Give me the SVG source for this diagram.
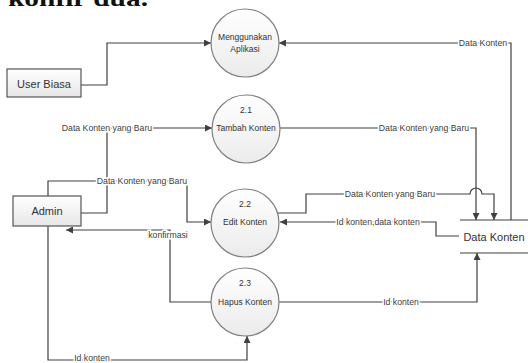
<svg xmlns="http://www.w3.org/2000/svg" width="528" height="363" viewBox="0 0 528 363">
<defs>
<linearGradient id="gc" x1="0" y1="0" x2="0" y2="1"><stop offset="0" stop-color="#ffffff"/><stop offset="1" stop-color="#ebebeb"/></linearGradient>
<linearGradient id="gb" x1="0" y1="0" x2="0" y2="1"><stop offset="0" stop-color="#ffffff"/><stop offset="1" stop-color="#e6e6e6"/></linearGradient>
<marker id="ar" viewBox="0 0 10 10" refX="10" refY="5" markerWidth="7" markerHeight="7" markerUnits="userSpaceOnUse" orient="auto"><path d="M0,0 L10,5 L0,10 z" fill="#404040"/></marker>
</defs>
<style>
.c{fill:url(#gc);stroke:#7f7f7f;stroke-width:1.2}
.b{fill:url(#gb);stroke:#555;stroke-width:1.2}
.l{fill:none;stroke:#404040;stroke-width:1.2}
.a{marker-end:url(#ar)}
.t{font-family:"Liberation Sans",Arial,sans-serif;fill:#333;text-anchor:middle}
.lb{font-family:"Liberation Sans",Arial,sans-serif;font-size:8.7px;fill:#404040;text-anchor:middle;stroke:#fff;stroke-width:3;paint-order:stroke}
</style>
<rect width="528" height="363" fill="#fff"/>
<text x="8" y="6" font-family="Liberation Serif,serif" font-weight="bold" font-size="24" fill="#111" textLength="140" lengthAdjust="spacingAndGlyphs">konfir dua.</text>
<g id="connectors">
<polyline class="l a" points="81,85 107,85 107,43 211,43"/>
<polyline class="l a" points="511,220 511,43 279,43"/>
<polyline class="l a" points="81,213 107,213 107,128 212,128"/>
<polyline class="l a" points="48,196 48,181 187,181 187,222 211,222"/>
<polyline class="l a" points="280,128 476,128 476,220"/>
<path class="l a" d="M278,213 L306,213 L306,194 L470,194 A6,6 0 0 1 482,194 L494,194 L494,220"/>
<polyline class="l a" points="459,236 436,236 436,222 280,222"/>
<polyline class="l a" points="212,302 170,302 170,230 66,230"/>
<polyline class="l a" points="48,226 48,360 247,360 247,336"/>
<polyline class="l a" points="279,302 477,302 477,253"/>
<text class="lb" x="483" y="46">Data Konten</text>
<text class="lb" x="107" y="131">Data Konten yang Baru</text>
<text class="lb" x="142" y="184">Data Konten yang Baru</text>
<text class="lb" x="424" y="131">Data Konten yang Baru</text>
<text class="lb" x="390" y="197">Data Konten yang Baru</text>
<text class="lb" x="378" y="225">Id konten,data konten</text>
<text class="lb" x="168" y="238">konfirmasi</text>
<text class="lb" x="401" y="305">Id konten</text>
<text class="lb" x="92" y="361">Id konten</text>
</g>
<g id="user-biasa"><rect class="b" x="7" y="69" width="74" height="28"/><text class="t" x="44" y="88" font-size="11">User Biasa</text></g>
<g id="admin"><rect class="b" x="13" y="196" width="68" height="30"/><text class="t" x="47" y="215" font-size="11">Admin</text></g>
<g id="p-menggunakan"><circle class="c" cx="245" cy="43" r="34"/><text class="t" x="245" y="40" font-size="8.5">Menggunakan</text><text class="t" x="245" y="52" font-size="8.5">Aplikasi</text></g>
<g id="p-2-1"><circle class="c" cx="246" cy="129" r="34"/><text class="t" x="246" y="113" font-size="8.5">2.1</text><text class="t" x="246" y="131" font-size="8.5">Tambah Konten</text></g>
<g id="p-2-2"><circle class="c" cx="245" cy="223" r="34"/><text class="t" x="245" y="207" font-size="8.5">2.2</text><text class="t" x="245" y="225" font-size="8.5">Edit Konten</text></g>
<g id="p-2-3"><circle class="c" cx="245" cy="302" r="34"/><text class="t" x="245" y="286" font-size="8.5">2.3</text><text class="t" x="245" y="305" font-size="8.5">Hapus Konten</text></g>
<g id="data-konten"><line class="l" x1="460" y1="220" x2="528" y2="220"/><line class="l" x1="460" y1="253" x2="528" y2="253"/><text class="t" x="494" y="241" font-size="11">Data Konten</text></g>
</svg>
